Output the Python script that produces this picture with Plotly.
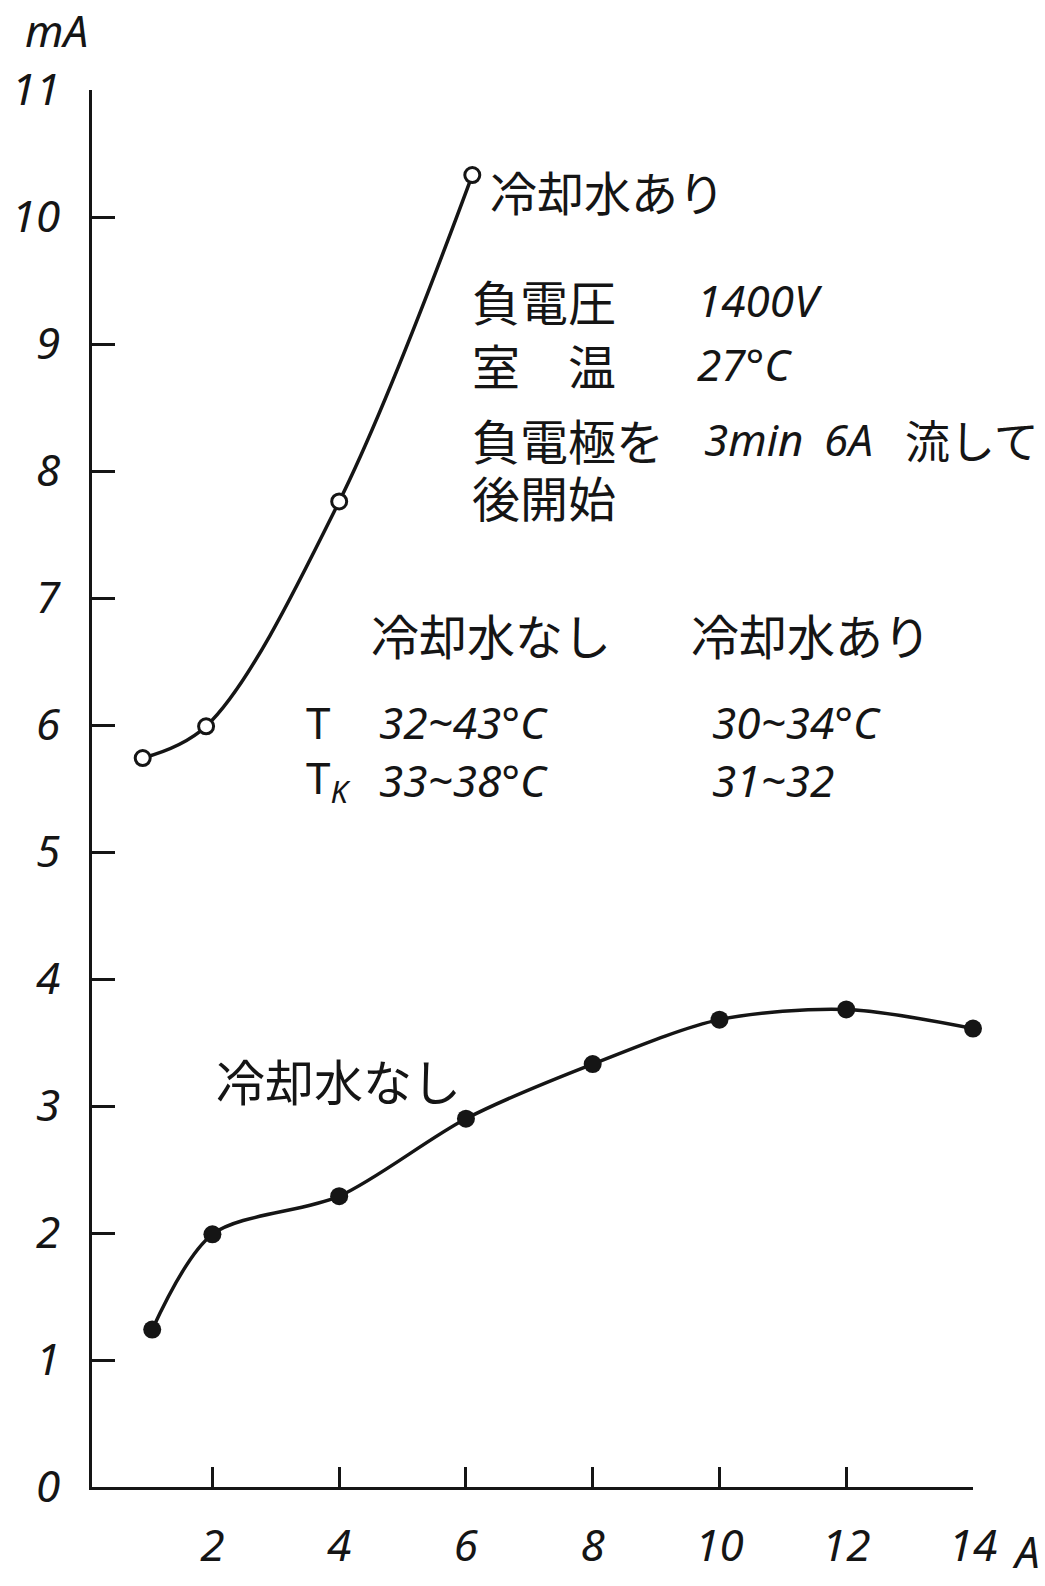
import plotly.graph_objects as go

# Discharge current (mA) vs. cathode heating current (A)
x_cooled = [0.9, 1.9, 4.0, 6.1]
y_cooled = [5.74, 5.99, 7.76, 10.33]

x_uncooled = [1.05, 2, 4, 6, 8, 10, 12, 14]
y_uncooled = [1.24, 1.99, 2.29, 2.90, 3.33, 3.68, 3.76, 3.61]

x_ticks = [2, 4, 6, 8, 10, 12, 14]
y_ticks = list(range(0, 12))

label_cooled = "冷却水あり"
label_uncooled = "冷却水なし"

CJK = "Noto Sans CJK JP, Noto Sans CJK SC, sans-serif"
NUM = "Noto Sans, Liberation Sans, sans-serif"
INK = "#151515"
NUM_SIZE = 44

fig = go.Figure()

fig.add_trace(go.Scatter(
    x=x_cooled, y=y_cooled, mode="lines+markers",
    line=dict(color=INK, width=3.5, shape="spline", smoothing=1.0),
    marker=dict(symbol="circle", size=15, color="white",
                line=dict(color=INK, width=3)),
    cliponaxis=False, showlegend=False,
))
fig.add_trace(go.Scatter(
    x=x_uncooled, y=y_uncooled, mode="lines+markers",
    line=dict(color=INK, width=3.5, shape="spline", smoothing=0.85),
    marker=dict(symbol="circle", size=18, color=INK),
    cliponaxis=False, showlegend=False,
))


def cjk(x, y, text, size=48):
    fig.add_annotation(x=x, y=y, text=text, showarrow=False,
                       xanchor="left", yanchor="middle",
                       font=dict(family=CJK, size=size, color=INK))


def num(x, y, text, style="italic"):
    fig.add_annotation(x=x, y=y, text=text, showarrow=False,
                       xanchor="left", yanchor="middle",
                       font=dict(family=NUM, size=NUM_SIZE, color=INK, style=style))


# curve labels
cjk(6.35, 10.21, label_cooled, size=47)
cjk(2.02, 3.21, label_uncooled, size=49)

# measurement conditions
cjk(6.06, 9.35, "負電圧")
num(9.62, 9.35, "1400V")
cjk(6.06, 8.84, "室　温")
num(9.62, 8.84, "27°C")
cjk(6.06, 8.25, "負電極を")
num(9.72, 8.25, "3min")
num(11.62, 8.25, "6A")
cjk(12.9, 8.25, "流して", size=45)
cjk(6.06, 7.80, "後開始")

# temperature table
cjk(4.47, 6.72, label_uncooled)
cjk(9.52, 6.72, label_cooled)
num(3.45, 6.02, "T", style="normal")
num(4.6, 6.02, "32~43°C")
num(9.85, 6.02, "30~34°C")
num(3.45, 5.57, "T<sub><i>K</i></sub>", style="normal")
num(4.6, 5.57, "33~38°C")
num(9.85, 5.57, "31~32")

# axis units
fig.add_annotation(xref="paper", yref="paper", x=-0.04, y=1.043, text="mA",
                   showarrow=False, xanchor="center", yanchor="middle",
                   font=dict(family=NUM, size=NUM_SIZE, color=INK, style="italic"))
fig.add_annotation(xref="paper", yref="paper", x=1.06, y=-0.046, text="A",
                   showarrow=False, xanchor="center", yanchor="middle",
                   font=dict(family=NUM, size=NUM_SIZE, color=INK, style="italic"))

tick_font = dict(family=NUM, size=NUM_SIZE, color=INK, style="italic")

fig.update_layout(
    width=1045, height=1586,
    margin=dict(l=83, r=72, t=90, b=75),
    paper_bgcolor="white", plot_bgcolor="white",
    xaxis=dict(range=[0.1, 14], tickvals=x_ticks,
               ticktext=[str(v) for v in x_ticks],
               showline=True, linecolor=INK, linewidth=3,
               ticks="inside", ticklen=20, tickwidth=2.5, tickcolor=INK,
               showgrid=False, zeroline=False, tickfont=tick_font,
               ticklabelstandoff=18),
    yaxis=dict(range=[0, 11], tickvals=y_ticks,
               ticktext=[str(v) for v in y_ticks],
               showline=True, linecolor=INK, linewidth=3,
               ticks="inside", ticklen=23, tickwidth=2.5, tickcolor=INK,
               showgrid=False, zeroline=False, tickfont=tick_font,
               ticklabelstandoff=20),
)

fig.write_html("out.html")
